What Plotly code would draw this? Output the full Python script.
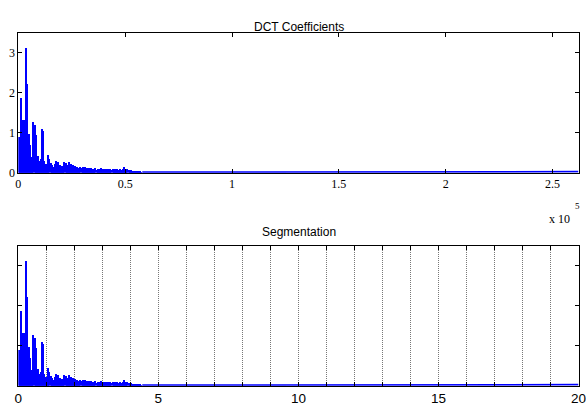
import plotly.graph_objects as go

# ---- data ----
N_SAMPLES = 262144          # length of the DCT vector (x axis end of top plot)
NUM_SEGMENTS = 20           # segment count (x axis end of bottom plot)
BIN = 500                   # samples per envelope bin

# envelope of |DCT| per 500-sample bin (x = 0 .. 58000)
dct_envelope = [
    0.90, 0.60, 1.87, 1.20, 1.33, 1.33, 0.80, 3.12, 2.22, 0.70,
    0.98, 0.70, 0.30, 0.40, 1.27, 1.20, 0.95, 0.30, 0.43, 0.30,
    0.30, 0.35, 1.10, 1.05, 0.30, 0.20, 0.22, 0.20, 0.45, 0.35,
    0.25, 0.20, 0.15, 0.10, 0.22, 0.30, 0.25, 0.28, 0.12, 0.20,
    0.10, 0.18, 0.15, 0.28, 0.26, 0.12, 0.20, 0.27, 0.22, 0.22,
    0.15, 0.20, 0.12, 0.18, 0.10, 0.15, 0.13, 0.10, 0.16, 0.12,
    0.14, 0.10, 0.15, 0.11, 0.13, 0.09, 0.12, 0.10, 0.13, 0.09,
    0.11, 0.10, 0.12, 0.08, 0.10, 0.11, 0.09, 0.12, 0.08, 0.10,
    0.09, 0.11, 0.08, 0.10, 0.09, 0.08, 0.10, 0.08, 0.09, 0.07,
    0.09, 0.08, 0.10, 0.07, 0.08, 0.09, 0.07, 0.08, 0.10, 0.14,
    0.10, 0.08, 0.09, 0.07, 0.08, 0.07, 0.06, 0.04, 0.04, 0.03,
    0.04, 0.03, 0.04, 0.03, 0.04, 0.02,
]
# low-level tail of the coefficients up to the end
tail_x = [58000, 108500, 109000, 262144]
tail_y = [0.012, 0.012, 0.025, 0.025]

top_tickvals = [0, 50000, 100000, 150000, 200000, 250000]
top_ticktext = ["0", "0.5", "1", "1.5", "2", "2.5"]
y_ticks = [0, 1, 2, 3]
seg_ticks = list(range(0, 21))
seg_ticktext = [str(v) if v % 5 == 0 else "" for v in seg_ticks]

# ---- derived ----
bin_x = [i * BIN + BIN / 2 for i in range(len(dct_envelope))]
seg_len = N_SAMPLES / NUM_SEGMENTS
bin_seg = [v / seg_len for v in bin_x]
tail_seg = [v / seg_len for v in tail_x]

BLUE = "#0000ff"
fig = go.Figure()
fig.add_trace(go.Bar(x=bin_x, y=dct_envelope, width=BIN, marker=dict(color=BLUE, line=dict(width=0)),
                     xaxis="x", yaxis="y", showlegend=False))
fig.add_trace(go.Scatter(x=tail_x, y=tail_y, mode="lines", line=dict(color=BLUE, width=1.8),
                         xaxis="x", yaxis="y", showlegend=False))
fig.add_trace(go.Bar(x=bin_seg, y=dct_envelope, width=BIN / seg_len, marker=dict(color=BLUE, line=dict(width=0)),
                     xaxis="x2", yaxis="y2", showlegend=False))
fig.add_trace(go.Scatter(x=tail_seg, y=tail_y, mode="lines", line=dict(color=BLUE, width=1.8),
                         xaxis="x2", yaxis="y2", showlegend=False))

W, H = 586, 406
x0, x1 = 18.3 / W, 578.5 / W
top_dom = [1 - 172.7 / H, 1 - 32.7 / H]
bot_dom = [1 - 385.7 / H, 1 - 245.7 / H]

serif = dict(family="Liberation Serif", size=12, color="black")
sans = dict(family="Liberation Sans", size=13.5, color="black")

common_axis = dict(showline=True, linecolor="black", linewidth=1, mirror="ticks",
                   ticks="inside", ticklen=4, tickcolor="black", zeroline=False, automargin=False,
                   ticklabeloverflow="allow")

fig.update_layout(
    width=W, height=H, margin=dict(l=0, r=0, t=0, b=0),
    paper_bgcolor="white", plot_bgcolor="white", bargap=0, barmode="overlay",
    xaxis=dict(domain=[x0, x1], range=[0, N_SAMPLES], tickvals=top_tickvals, ticktext=top_ticktext,
               tickfont=serif, showgrid=False, anchor="y", **common_axis),
    yaxis=dict(domain=top_dom, range=[0, 3.5], tickvals=y_ticks, tickfont=serif,
               showgrid=False, anchor="x", **common_axis),
    xaxis2=dict(domain=[x0, x1], range=[0, NUM_SEGMENTS], tickvals=seg_ticks, ticktext=seg_ticktext,
                tickfont=sans, showgrid=True, gridcolor="#777777", gridwidth=1, griddash="1px,1px",
                anchor="y2", **common_axis),
    yaxis2=dict(domain=bot_dom, range=[0, 3.5], tickvals=y_ticks, showticklabels=False,
                showgrid=False, anchor="x2", **common_axis),
    annotations=[
        dict(text="DCT Coefficients", x=298.5 / W, y=1 - 17.5 / H, xref="paper", yref="paper",
             showarrow=False, font=dict(family="Liberation Sans", size=12, color="black")),
        dict(text="Segmentation", x=298.5 / W, y=1 - 232 / H, xref="paper", yref="paper",
             showarrow=False, font=dict(family="Liberation Sans", size=12, color="black")),
        dict(text="x 10", x=571.5 / W, y=1 - 219 / H, xref="paper", yref="paper",
             xanchor="right", showarrow=False, font=serif),
        dict(text="5", x=572.5 / W, y=1 - 206 / H, xref="paper", yref="paper",
             xanchor="left", showarrow=False, font=dict(family="Liberation Serif", size=9, color="black")),
    ],
)

fig.write_html("out.html", config={"displayModeBar": False},
               post_script="document.body.style.margin='0';document.body.style.padding='0';"
                           "document.documentElement.style.overflow='hidden';")
